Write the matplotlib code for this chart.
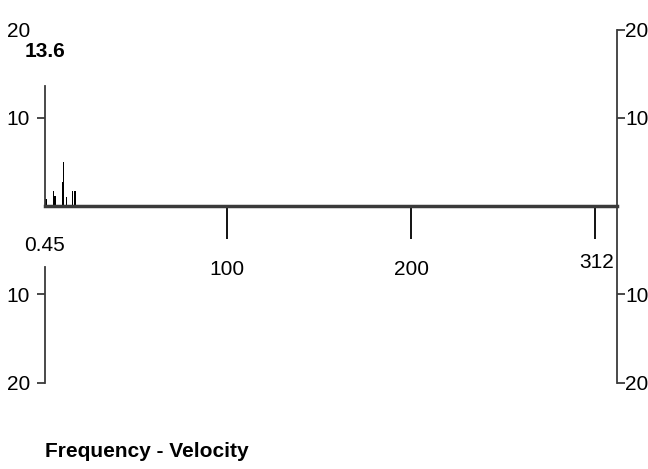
import matplotlib.pyplot as plt
from matplotlib.ticker import FuncFormatter

# frequency spikes (position, height)
freq_x = [1.3, 5.2, 6.2, 10.4, 10.9, 12.5, 15.6, 17.1]
freq_h = [0.8, 1.7, 1.1, 2.7, 5.0, 1.0, 1.7, 1.7]

x_min, x_max = 0.45, 312
y_peak = 13.6
x_ticks = [100, 200, 300]
x_tick_labels = ["100", "200", ""]
y_ticks = [-20, -10, 10, 20]
title = "Frequency - Velocity"

plt.rcParams['font.family'] = ['Liberation Sans Narrow', 'Liberation Sans', 'DejaVu Sans']
axis_col = "#3a3a3a"
fs = 15

fig = plt.figure(figsize=(6.48, 4.69), dpi=100)
ax = fig.add_axes([0.0687, 0.1844, 0.8830, 0.7527])

ax.bar(freq_x, freq_h, width=0.7, color="black")

ax.set_xlim(x_min, x_max)
ax.set_ylim(-20, 20)

# baseline with downward ticks
ax.spines['bottom'].set_position(('data', 0))
ax.spines['bottom'].set_linewidth(2.5)
ax.spines['bottom'].set_color(axis_col)
for s in ['top', 'left', 'right']:
    ax.spines[s].set_visible(False)

ax.set_xticks(x_ticks)
ax.set_xticklabels(x_tick_labels)
ax.tick_params(axis='x', direction='out', length=24, width=1.3, color="black",
               pad=15, labelsize=fs)

abs_fmt = FuncFormatter(lambda v, p: f"{abs(v):.0f}")

# left value axis
ax.set_yticks(y_ticks)
ax.yaxis.set_major_formatter(abs_fmt)
ax.tick_params(axis='y', direction='out', length=5.5, width=1.3, color=axis_col,
               labelsize=fs, pad=5)

# right value axis
rax = ax.twinx()
rax.set_ylim(-20, 20)
rax.set_yticks(y_ticks)
rax.yaxis.set_major_formatter(abs_fmt)
rax.tick_params(axis='y', direction='out', length=5.5, width=1.3, color=axis_col,
                labelsize=fs, pad=0.5)
for s in ['top', 'left', 'bottom']:
    rax.spines[s].set_visible(False)
rax.spines['right'].set_color(axis_col)
rax.spines['right'].set_linewidth(1.3)

# no tick mark at the top-left, the peak label sits there
ax.yaxis.get_major_ticks()[-1].tick1line.set_visible(False)

# left axis drawn in two pieces around the range labels
ax.plot([x_min, x_min], [0, y_peak], color=axis_col, lw=1.3, clip_on=False)
ax.plot([x_min, x_min], [-20, -6.9], color=axis_col, lw=1.3, clip_on=False)

# range labels
ax.text(x_min, 17.5, f"{y_peak}", ha='center', va='center', fontsize=fs,
        fontweight='bold', bbox=dict(facecolor='white', edgecolor='none', pad=0.5))
ax.text(x_min, -4.5, f"{x_min}", ha='center', va='center', fontsize=fs)
ax.text(x_max - 1.5, -6.4, f"{x_max}", ha='right', va='center', fontsize=fs)

fig.text(45 / 648, 12 / 469, title, ha='left', va='baseline', fontsize=15,
         fontweight='bold')

fig.savefig("out.png", dpi=100)
